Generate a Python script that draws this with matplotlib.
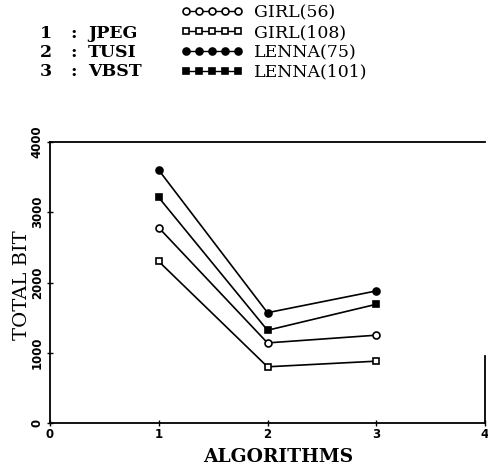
import matplotlib
matplotlib.use("Agg")
import matplotlib.pyplot as plt
from matplotlib.lines import Line2D

# data
algorithms = [1, 2, 3]
algo_names = ["JPEG", "TUSI", "VBST"]
series_labels = ["GIRL(56)", "GIRL(108)", "LENNA(75)", "LENNA(101)"]
girl_56 = [2780, 1140, 1250]
girl_108 = [2300, 800, 880]
lenna_75 = [3600, 1570, 1880]
lenna_101 = [3210, 1320, 1690]

serif = "DejaVu Serif"

fig = plt.figure(figsize=(4.88, 4.74), dpi=100)
ax = fig.add_axes([50 / 488, 1 - 423 / 474, 435 / 488, 281 / 474])

styles = [
    ("o", "white"),   # open circle
    ("s", "white"),   # open square
    ("o", "black"),   # filled circle
    ("s", "black"),   # filled square
]
all_series = [girl_56, girl_108, lenna_75, lenna_101]

handles = []
for vals, (m, fc) in zip(all_series, styles):
    ax.plot(algorithms, vals, color="black", lw=1.2, marker=m, ms=5,
            mfc=fc, mec="black", mew=1.2)
    handles.append(Line2D([], [], color="black", lw=1.0, marker=m, ms=5,
                          mfc=fc, mec="black", mew=1.2))

ax.set_xlim(0, 4)
ax.set_ylim(0, 4000)
ax.set_xticks([0, 1, 2, 3, 4])
ax.set_yticks([0, 1000, 2000, 3000, 4000])
ax.tick_params(axis="both", direction="inout", length=5, width=1, labelsize=8.5)
for lbl in ax.get_yticklabels():
    lbl.set_rotation(90)
    lbl.set_va("center")
    lbl.set_fontweight("bold")
for lbl in ax.get_xticklabels():
    lbl.set_fontweight("bold")
ax.tick_params(axis="x", pad=1)
ax.tick_params(axis="y", pad=2)

for side in ["left", "bottom", "top", "right"]:
    ax.spines[side].set_linewidth(1.3)
ax.spines["right"].set_bounds(0, 950)

ax.set_xlabel("ALGORITHMS", fontsize=13.5, fontweight="bold", family=serif)
ax.xaxis.set_label_coords((278 - 50) / 435, -(448 - 423) / 281)
ax.set_ylabel("TOTAL BIT", fontsize=14, family=serif)
ax.yaxis.set_label_coords(-(50 - 31) / 435, (423 - 285) / 281)

# legend block at the top
for i, name in enumerate(algo_names):
    y = 1 - (33 + 19.5 * i) / 474
    fig.text(40 / 488, y, str(i + 1), fontsize=12.5, fontweight="bold",
             family=serif, va="center")
    fig.text(70 / 488, y, ":", fontsize=12.5, fontweight="bold",
             family=serif, va="center")
    fig.text(88 / 488, y, name, fontsize=12.5, fontweight="bold",
             family=serif, va="center")

fig.legend(handles, series_labels, loc="upper left",
           bbox_to_anchor=(181 / 488, 1 - 4 / 474), numpoints=5,
           handlelength=3.6, handletextpad=0.6, labelspacing=0.17,
           frameon=False, borderpad=0, borderaxespad=0,
           prop={"family": serif, "size": 12.5})

fig.savefig("out.png", dpi=100)
